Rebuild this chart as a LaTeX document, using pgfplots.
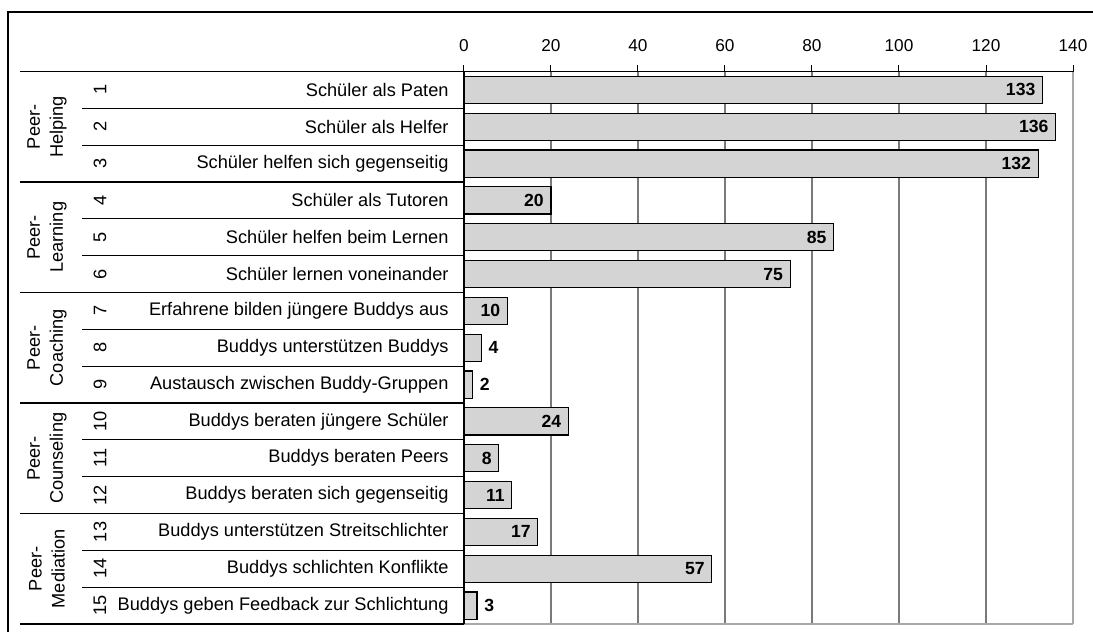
\documentclass[border=0pt]{standalone}
\usepackage{pgfplots}
\pgfplotsset{compat=1.18}
\usepackage{fontspec}
\setmainfont{Liberation Sans}
\definecolor{barfill}{HTML}{D4D4D4}
\definecolor{gridc}{HTML}{7A7A7A}
\definecolor{edgec}{HTML}{A8A8A8}
\newcommand{\lbl}{\fontsize{9.1}{11.5}\selectfont}
\begin{document}
\begin{tikzpicture}
\useasboundingbox (0,0) rectangle (546.5pt,316pt);
\draw[black, line width=0.6pt] (4pt,-5pt) -- (4pt,310pt) -- (560pt,310pt);
\begin{axis}[
  at={(232pt,4pt)}, anchor=south west,
  width=304.5pt, height=276.25pt, scale only axis,
  xmin=0, xmax=140, ymin=0.5, ymax=15.5, y dir=reverse,
  xtick={0,20,...,140}, xticklabel pos=upper, xtick pos=upper,
  tick align=outside, major tick length=3.3pt,
  x tick style={black, line width=0.5pt},
  xticklabel style={font=\fontsize{8.6}{10}\selectfont, yshift=2.9pt},
  /pgf/number format/assume math mode=true,
  ytick={1,...,15},
  yticklabels={Schüler als Paten, Schüler als Helfer, Schüler helfen sich gegenseitig,
    Schüler als Tutoren, Schüler helfen beim Lernen, Schüler lernen voneinander,
    Erfahrene bilden jüngere Buddys aus, Buddys unterstützen Buddys, Austausch zwischen Buddy-Gruppen,
    Buddys beraten jüngere Schüler, Buddys beraten Peers, Buddys beraten sich gegenseitig,
    Buddys unterstützen Streitschlichter, Buddys schlichten Konflikte, Buddys geben Feedback zur Schlichtung},
  ytick style={draw=none},
  yticklabel style={font=\lbl, xshift=-0.9pt},
  axis line style={draw=none},
  xmajorgrids, grid style={gridc, line width=0.6pt},
  clip=false,
]
\addplot[xbar, bar width=13.6pt, bar shift=0pt, fill=barfill, draw=black, line width=0.55pt,
  nodes near coords,
  every node near coord/.append style={anchor=east, font=\bfseries\fontsize{8.8}{10}\selectfont, black}]
  coordinates {(133,1) (136,2) (132,3) (20,4) (85,5) (75,6) (10,7) (24,10) (8,11) (11,12) (17,13) (57,14)};
\addplot[xbar, bar width=13.6pt, bar shift=0pt, fill=barfill, draw=black, line width=0.55pt,
  nodes near coords,
  every node near coord/.append style={anchor=west, font=\bfseries\fontsize{8.8}{10}\selectfont, black}]
  coordinates {(4,8) (2,9) (3,15)};
% axis frame
\draw[edgec, line width=0.6pt] (axis cs:140,0.5) -- (axis cs:140,15.5);
\draw[edgec, line width=0.6pt] (axis cs:0,15.5) -- (axis cs:140,15.5);
\draw[black, line width=0.6pt] (axis cs:0,0.5) -- (axis cs:140,0.5);
\draw[black, line width=0.6pt] (axis cs:0,0.5) -- (axis cs:0,15.5);
% table lines
\pgfplotsinvokeforeach{0.5,3.5,6.5,9.5,12.5,15.5}{
  \draw[black, line width=0.6pt] ([xshift=-222pt]axis cs:0,#1) -- (axis cs:0,#1);
}
\pgfplotsinvokeforeach{1.5,2.5,4.5,5.5,7.5,8.5,10.5,11.5,13.5,14.5}{
  \draw[black, line width=0.6pt] ([xshift=-191pt]axis cs:0,#1) -- (axis cs:0,#1);
}
\pgfplotsinvokeforeach{1,...,15}{
  \node[rotate=90, font=\lbl] at ([xshift=-182pt]axis cs:0,#1) {#1};
}
\node[rotate=90, font=\lbl, align=center] at ([xshift=-208.5pt]axis cs:0,2) {Peer-\\Helping};
\node[rotate=90, font=\lbl, align=center] at ([xshift=-208.5pt]axis cs:0,5) {Peer-\\Learning};
\node[rotate=90, font=\lbl, align=center] at ([xshift=-208.5pt]axis cs:0,8) {Peer-\\Coaching};
\node[rotate=90, font=\lbl, align=center] at ([xshift=-208.5pt]axis cs:0,11) {Peer-\\Counseling};
\node[rotate=90, font=\lbl, align=center] at ([xshift=-208.5pt]axis cs:0,14) {Peer-\\Mediation};
\end{axis}
\end{tikzpicture}
\end{document}
